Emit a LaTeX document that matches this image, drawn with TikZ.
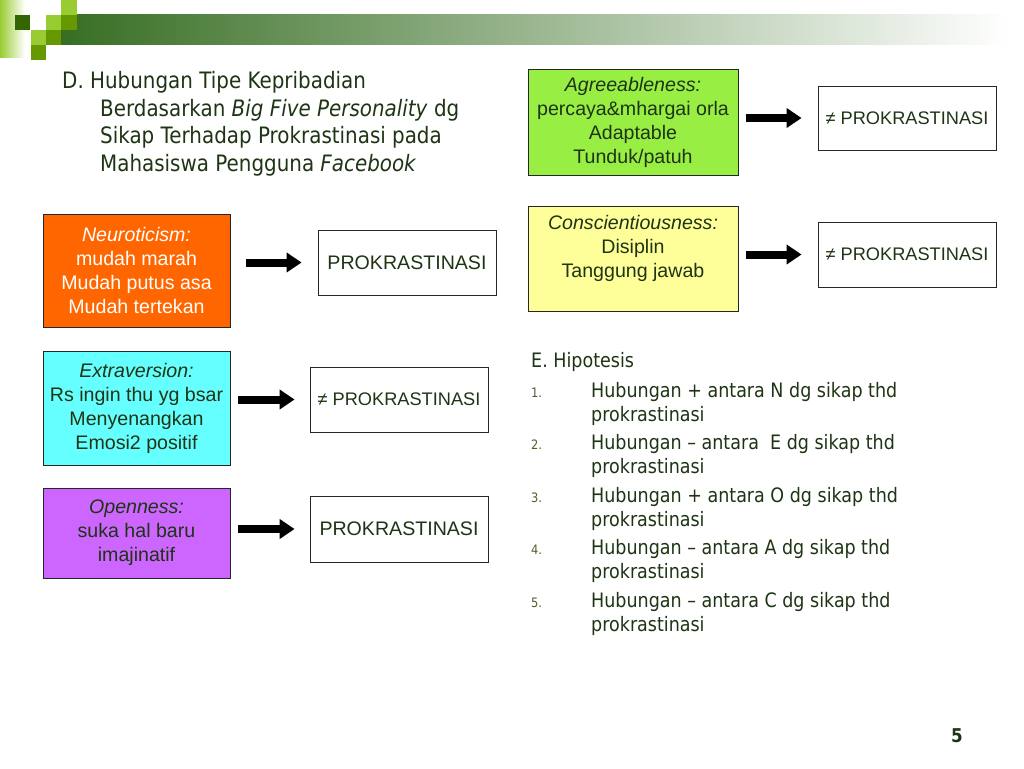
\documentclass[tikz,border=0pt]{standalone}
\usepackage{fontspec}
\setmainfont{Liberation Sans}
\newfontfamily\slidefont[FakeStretch=0.88]{DejaVu Sans}
\usetikzlibrary{arrows.meta}

\definecolor{slidetext}{RGB}{30,52,20}
\definecolor{numtext}{RGB}{80,95,40}
\definecolor{darkleaf}{RGB}{51,102,0}
\definecolor{midleaf}{RGB}{102,153,0}
\definecolor{lightleaf}{RGB}{153,204,51}
\definecolor{barleft}{RGB}{55,110,35}
\definecolor{barmid}{RGB}{170,175,160}
\definecolor{neurofill}{RGB}{255,102,0}
\definecolor{extrafill}{RGB}{102,255,255}
\definecolor{openfill}{RGB}{204,102,255}
\definecolor{agreefill}{RGB}{153,238,68}
\definecolor{conscfill}{RGB}{255,255,153}

\tikzset{
  trait/.style={draw=black!85, line width=0.8pt, inner sep=0pt, align=center,
    text=slidetext, font=\fontsize{19.6}{24}\selectfont},
  result/.style={draw=black!85, line width=0.8pt, fill=white, inner sep=0pt,
    minimum width=178pt, minimum height=65pt, text=slidetext,
    font=\fontsize{19.6}{24}\selectfont},
  notresult/.style={result, font=\fontsize{18.2}{22}\selectfont},
  bigarrow/.style={line width=8pt, -{Triangle[length=15pt,width=19pt]}},
  titleline/.style={anchor=base west, inner sep=0pt, text=slidetext,
    font=\slidefont\fontsize{22.6}{27.7}\selectfont},
  listline/.style={anchor=base west, inner sep=0pt, text=slidetext,
    font=\slidefont\fontsize{19.9}{24}\selectfont},
  listnum/.style={anchor=base west, inner sep=0pt, text=numtext,
    font=\slidefont\fontsize{13}{16}\selectfont},
}

\begin{document}
\begin{tikzpicture}[x=1pt,y=-1pt]
\useasboundingbox (0,0) rectangle (1024,768);

% slide header
\shade[left color=lightleaf, right color=white] (0,0) rectangle (25,58);
\shade[left color=barleft, middle color=barmid, right color=white]
  (61,15) rectangle (1010,45);
\fill[darkleaf] (15,15) rectangle (30,30);
\fill[lightleaf] (46,15) rectangle (61,30);
\fill[lightleaf] (61,0) rectangle (77,15);
\fill[midleaf] (61,15) rectangle (77,30);
\fill[lightleaf] (31,30) rectangle (46,45);
\fill[midleaf] (46,30) rectangle (61,45);
\fill[midleaf] (31,45) rectangle (46,60);

% title
\node[titleline] (title) at (62,88.5) {D. Hubungan Tipe Kepribadian};
\node[titleline] (titleb) at (100,116.2) {Berdasarkan \textit{Big Five Personality} dg};
\node[titleline] (titlec) at (100,143.9) {Sikap Terhadap Prokrastinasi pada};
\node[titleline] (titled) at (100,171.6) {Mahasiswa Pengguna \textit{Facebook}};

% traits
\node[trait, fill=neurofill, text=white, minimum width=187pt, minimum height=113pt]
  (neuro) at (136.5,270.5) {\textit{Neuroticism:}\\mudah marah\\Mudah putus asa\\Mudah tertekan};
\node[trait, fill=extrafill, minimum width=187pt, minimum height=114pt]
  (extra) at (136.5,408) {\textit{Extraversion:}\\Rs ingin thu yg bsar\\Menyenangkan\\Emosi2 positif};
\node[trait, fill=openfill, minimum width=187pt, minimum height=90pt]
  (open) at (136.5,533) {\textit{Openness:}\\suka hal baru\\imajinatif};
\node[trait, fill=agreefill, minimum width=210pt, minimum height=106pt]
  (agree) at (633,122) {\textit{Agreeableness:}\\percaya\&mhargai orla\\Adaptable\\Tunduk/patuh};
\node[trait, fill=conscfill, minimum width=210pt, minimum height=105pt]
  (consc) at (633,258.5) {\textit{Conscientiousness:}\\Disiplin\\Tanggung jawab\\\mbox{}};

% results
\node[result] (pneuro) at (407,262.5) {PROKRASTINASI};
\node[notresult] (pextra) at (399,399.5) {≠ PROKRASTINASI};
\node[result, minimum height=66pt] (popen) at (399,529) {PROKRASTINASI};
\node[notresult, minimum height=64pt] (pagree) at (907,118) {≠ PROKRASTINASI};
\node[notresult] (pconsc) at (907,254.5) {≠ PROKRASTINASI};

\draw[bigarrow, shorten <=16pt, shorten >=16pt] (neuro.east |- pneuro) -- (pneuro.west);
\draw[bigarrow, shorten <=8pt, shorten >=15pt] (extra.east |- pextra) -- (pextra.west);
\draw[bigarrow, shorten <=8pt, shorten >=15pt] (open.east |- popen) -- (popen.west);
\draw[bigarrow, shorten <=8pt, shorten >=16pt] (agree.east |- pagree) -- (pagree.west);
\draw[bigarrow, shorten <=8pt, shorten >=16pt] (consc.east |- pconsc) -- (pconsc.west);

% hypotheses
\node[listline] (hip) at (531,367) {E. Hipotesis};
\node[listnum] (numa) at (531,397) {1.};
\node[listline] (hipa) at (591,397) {Hubungan + antara N dg sikap thd};
\node[listline] (hipaa) at (591,421) {prokrastinasi};
\node[listnum] (numb) at (531,449.5) {2.};
\node[listline] (hipb) at (591,449.5) {Hubungan – antara\ \ E dg sikap thd};
\node[listline] (hipbb) at (591,473.5) {prokrastinasi};
\node[listnum] (numc) at (531,502) {3.};
\node[listline] (hipc) at (591,502) {Hubungan + antara O dg sikap thd};
\node[listline] (hipcc) at (591,526) {prokrastinasi};
\node[listnum] (numd) at (531,554.5) {4.};
\node[listline] (hipd) at (591,554.5) {Hubungan – antara A dg sikap thd};
\node[listline] (hipdd) at (591,578.5) {prokrastinasi};
\node[listnum] (nume) at (531,607) {5.};
\node[listline] (hipe) at (591,607) {Hubungan – antara C dg sikap thd};
\node[listline] (hipee) at (591,631) {prokrastinasi};

% page number
\node[text=slidetext, font=\slidefont\bfseries\fontsize{19}{19}\selectfont] (page) at (957,736) {5};
\end{tikzpicture}
\end{document}
